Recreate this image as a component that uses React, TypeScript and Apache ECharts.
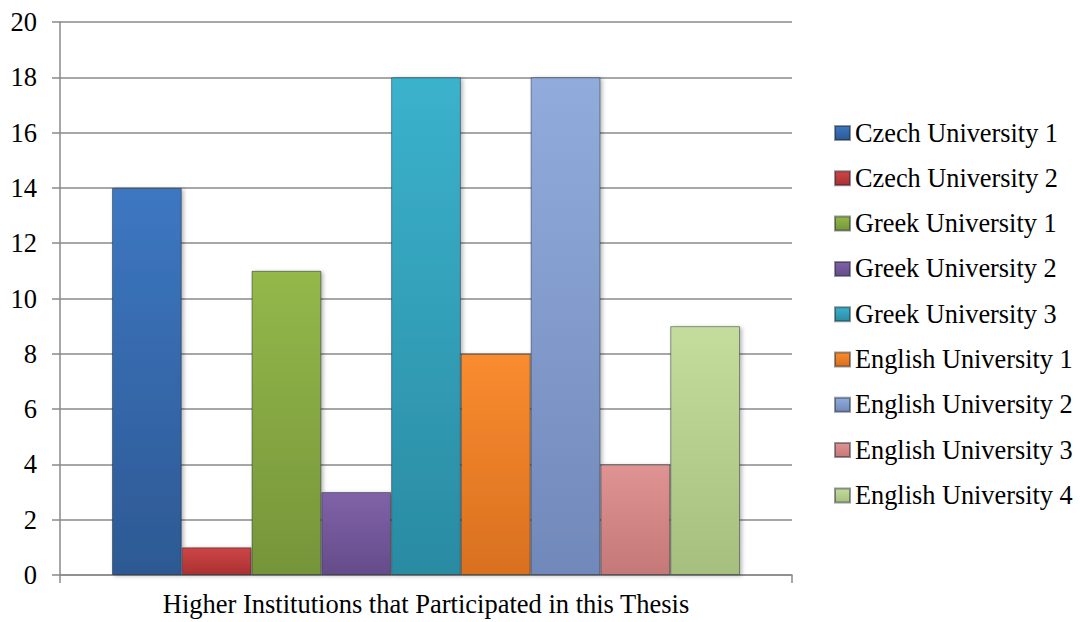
import React, { useEffect, useRef } from "react";
import * as echarts from "echarts";

const categories = ["Higher Institutions that Participated in this Thesis"];
const seriesNames = [
  "Czech University 1",
  "Czech University 2",
  "Greek University 1",
  "Greek University 2",
  "Greek University 3",
  "English University 1",
  "English University 2",
  "English University 3",
  "English University 4",
];
const seriesValues = [14, 1, 11, 3, 18, 8, 18, 4, 9];
const topColors = ["#3d77c2", "#cd4546", "#94b84a", "#8062a8", "#3bb2cc", "#f98c30", "#91acdc", "#e09393", "#c5dd9c"];
const bottomColors = ["#2d5993", "#ab3132", "#76953a", "#644c8a", "#2a8ba3", "#d9701f", "#7189ba", "#c57878", "#a6be7e"];
const yTicks = { min: 0, max: 20, interval: 2 };

export default function App() {
  const ref = useRef<HTMLDivElement>(null);
  useEffect(() => {
    if (!ref.current) return;
    const chart = echarts.init(ref.current, undefined, { renderer: "svg" });
    const font = "Liberation Serif";
    chart.setOption({
      animation: false,
      backgroundColor: "#ffffff",
      textStyle: { fontFamily: font },
      grid: { left: 60, right: 288, top: 22, bottom: 47 },
      legend: {
        orient: "vertical",
        left: 834,
        top: 120,
        padding: 0,
        itemWidth: 15,
        itemHeight: 14,
        itemGap: 19.3,
        itemTextGap: 3,
        icon: "rect",
        textStyle: { fontFamily: font, fontSize: 26.3, color: "#000", lineHeight: 26 },
        data: seriesNames,
      },
      xAxis: {
        type: "category",
        data: categories,
        axisLine: { lineStyle: { color: "#8a8a8a", width: 1.5 } },
        axisTick: { show: true, alignWithLabel: false, length: 8, lineStyle: { color: "#8a8a8a", width: 1.5 } },
        axisLabel: { fontFamily: font, fontSize: 26.5, color: "#000", margin: 15 },
      },
      yAxis: {
        type: "value",
        min: yTicks.min,
        max: yTicks.max,
        interval: yTicks.interval,
        axisLine: { show: true, lineStyle: { color: "#8a8a8a", width: 1.5 } },
        axisTick: { show: true, length: 8, lineStyle: { color: "#8a8a8a", width: 1.5 } },
        axisLabel: { fontFamily: font, fontSize: 26.5, color: "#000", margin: 23 },
        splitLine: { show: true, lineStyle: { color: "#8a8a8a", width: 1.5 } },
      },
      series: seriesNames.map((name, i) => ({
        name,
        type: "bar",
        data: [seriesValues[i]],
        barGap: "0%",
        barCategoryGap: "14.2%",
        itemStyle: {
          color: new echarts.graphic.LinearGradient(0, 0, 0, 1, [
            { offset: 0, color: topColors[i] },
            { offset: 1, color: bottomColors[i] },
          ]),
          borderColor: "rgba(20,30,40,0.45)",
          borderWidth: 1,
          shadowColor: "rgba(0,0,0,0.3)",
          shadowBlur: 4,
          shadowOffsetX: 2,
          shadowOffsetY: 1,
        },
      })),
    });
    return () => chart.dispose();
  }, []);
  return (
    <div
      ref={ref}
      style={{ position: "fixed", left: 0, top: 0, width: 1080, height: 622, background: "#fff" }}
    />
  );
}
